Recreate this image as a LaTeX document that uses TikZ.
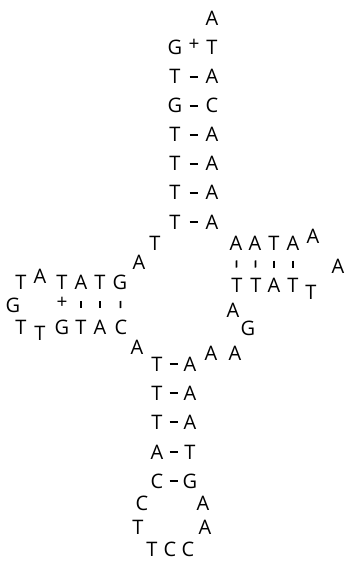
\documentclass[tikz,border=0pt]{standalone}
\usepackage{fontspec}
\setmainfont{Open Sans}
\begin{document}
\begin{tikzpicture}[x=1bp,y=-1bp,
  base/.style={inner sep=0pt,text height=14bp,text depth=0pt,font=\fontsize{20bp}{22bp}\selectfont},
  wob/.style={inner sep=0pt,font=\fontsize{19bp}{21bp}\selectfont},
  bondT/.style={line width=1.9bp,shorten <=14.5bp,shorten >=14.5bp},
  bondB/.style={line width=1.9bp,shorten <=12.5bp,shorten >=12.5bp},
  tickR/.style={line width=1.7bp,shorten <=17.5bp,shorten >=17.5bp},
  tickL/.style={line width=1.7bp,shorten <=19bp,shorten >=19bp}]
\useasboundingbox (0,0) rectangle (344,561);
% top stem
\node[base] (t0) at (212,19) {A};
\node[base] (l1) at (175,48) {G};  \node[base] (r1) at (212,48) {T};
\node[wob]  (w1) at (194,45) {+};
\node[base] (l2) at (175,77) {T};  \node[base] (r2) at (212,77) {A};
\node[base] (l3) at (175,106) {G}; \node[base] (r3) at (212,106) {C};
\node[base] (l4) at (175,135) {T}; \node[base] (r4) at (212,135) {A};
\node[base] (l5) at (175,164) {T}; \node[base] (r5) at (212,164) {A};
\node[base] (l6) at (175,193) {T}; \node[base] (r6) at (212,193) {A};
\node[base] (l7) at (175,222) {T}; \node[base] (r7) at (212,222) {A};
\foreach \i in {2,...,6} \draw[bondT] (l\i.center) -- (r\i.center);
\draw[bondT,yshift=4bp] (l7.center) -- (r7.center);
% junction left
\node[base] (j1) at (155,243) {T};
\node[base] (j2) at (139,262) {A};
% left arm
\node[base] (a1) at (120,282) {G};
\node[base] (a2) at (100,282) {T};
\node[base] (a3) at (81,282) {A};
\node[base] (a4) at (62,282) {T};
\node[base] (a5) at (40,276) {A};
\node[base] (a6) at (21,282) {T};
\node[base] (a7) at (13,305) {G};
\node[base] (b6) at (21,327) {T};
\node[base] (b5) at (40,333) {T};
\node[base] (b4) at (62,327) {G};
\node[base] (b3) at (81,327) {T};
\node[base] (b2) at (100,327) {A};
\node[base] (b1) at (121,327) {C};
\node[wob]  (w2) at (62,303) {+};
\foreach \i in {1,2,3} \draw[tickL] (a\i.center) -- (b\i.center);
\node[base] (j3) at (137,347) {A};
% bottom stem
\node[base] (m1) at (157,364) {T}; \node[base] (n1) at (190,364) {A};
\node[base] (m2) at (157,393) {T}; \node[base] (n2) at (190,393) {A};
\node[base] (m3) at (157,422) {T}; \node[base] (n3) at (190,422) {A};
\node[base] (m4) at (157,452) {A}; \node[base] (n4) at (190,452) {T};
\node[base] (m5) at (157,481) {C}; \node[base] (n5) at (190,481) {G};
\foreach \i in {1,...,5} \draw[bondB] (m\i.center) -- (n\i.center);
\node[base] (p1) at (142,503) {C};
\node[base] (p2) at (138,527) {T};
\node[base] (p3) at (152,549) {T};
\node[base] (p4) at (170,549) {C};
\node[base] (p5) at (188,549) {C};
\node[base] (p6) at (205,527) {A};
\node[base] (p7) at (203,503) {A};
% junction right-bottom
\node[base] (k1) at (211,353) {A};
\node[base] (k2) at (235,353) {A};
\node[base] (k3) at (248,328) {G};
\node[base] (k4) at (233,310) {A};
% right arm
\node[base] (c1) at (237,285) {T};
\node[base] (c2) at (256,285) {T};
\node[base] (c3) at (274,285) {A};
\node[base] (c4) at (293,285) {T};
\node[base] (c5) at (311,292) {T};
\node[base] (c6) at (338,266) {A};
\node[base] (d5) at (313,236) {A};
\node[base] (d4) at (293,243) {A};
\node[base] (d3) at (274,243) {T};
\node[base] (d2) at (255,243) {A};
\node[base] (d1) at (236,243) {A};
\foreach \i in {1,...,4} \draw[tickR] (d\i.center) -- (c\i.center);
\end{tikzpicture}
\end{document}
